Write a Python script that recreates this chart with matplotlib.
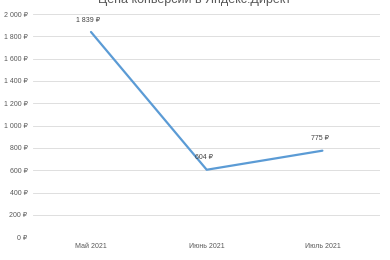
import matplotlib
matplotlib.use("Agg")
import matplotlib.pyplot as plt
from matplotlib.ticker import FuncFormatter

plt.rcParams['font.family'] = ['Liberation Sans', 'DejaVu Sans']

# data
months = ["Май 2021", "Июнь 2021", "Июль 2021"]
cost = [1839, 604, 775]
yticks = list(range(0, 2001, 200))

def rub(v, pos=None):
    # "1 839 ₽" style with a space as thousands separator
    return "{:,.0f} ₽".format(v).replace(",", " ")

fig = plt.figure(figsize=(3.9, 2.6), dpi=100)
ax = fig.add_axes([0.085, 0.088, 0.89, 0.858])

xs = range(len(months))
ax.plot(xs, cost, color="#5B9BD5", lw=1.6, solid_capstyle="round")
for x, v in zip(xs, cost):
    ax.annotate(rub(v), (x, v), xytext=(-2, 6), textcoords="offset points",
                ha="center", va="bottom", fontsize=5, color="#404040")

ax.set_xlim(-0.5, len(months) - 0.5)
ax.set_ylim(0, 2000)
ax.set_yticks(yticks)
ax.yaxis.set_major_formatter(FuncFormatter(rub))
ax.set_xticks(list(xs))
ax.set_xticklabels(months)
ax.tick_params(labelsize=5, colors="#595959", length=0, pad=4)
ax.grid(axis="y", color="#D9D9D9", lw=0.6)
ax.set_axisbelow(True)
for s in ax.spines.values():
    s.set_visible(False)

fig.text(0.5, 1.0, "Цена конверсии в Яндекс.Директ", ha="center", va="center",
         fontsize=9, color="#595959")

fig.savefig("out.png", dpi=100)
